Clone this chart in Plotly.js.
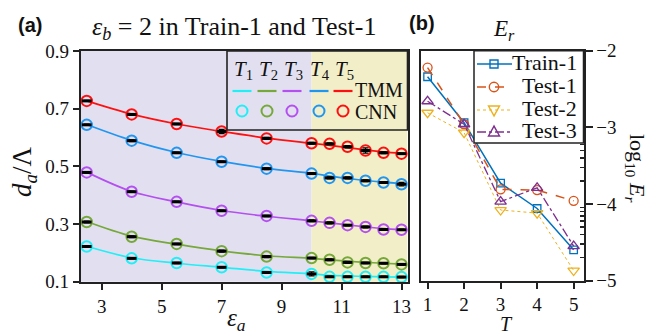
<!DOCTYPE html>
<html><head><meta charset="utf-8">
<script src="https://cdn.plot.ly/plotly-3.0.1.min.js"></script>
<style>html,body{margin:0;padding:0;background:#fff}</style>
</head><body><div id="chart" style="width:650px;height:335px"></div>
<script>
// ---------- Panel (a) data ----------
const epsA = [2.5, 4, 5.5, 7, 8.5, 10, 10.6, 11.2, 11.8, 12.4, 13];
const tmmT1 = [0.223, 0.183, 0.164, 0.150, 0.136, 0.127, 0.122, 0.120, 0.118, 0.117, 0.116];
const tmmT2 = [0.309, 0.258, 0.230, 0.207, 0.190, 0.181, 0.176, 0.171, 0.167, 0.164, 0.161];
const tmmT3 = [0.480, 0.413, 0.377, 0.347, 0.327, 0.311, 0.304, 0.297, 0.290, 0.284, 0.280];
const tmmT4 = [0.645, 0.590, 0.548, 0.517, 0.493, 0.476, 0.466, 0.458, 0.451, 0.445, 0.440];
const tmmT5 = [0.727, 0.681, 0.647, 0.621, 0.598, 0.580, 0.573, 0.565, 0.557, 0.550, 0.545];
const cnnT1 = [0.222, 0.181, 0.165, 0.150, 0.132, 0.127, 0.117, 0.117, 0.117, 0.117, 0.116];
const cnnT2 = [0.307, 0.256, 0.231, 0.206, 0.187, 0.182, 0.176, 0.167, 0.165, 0.164, 0.160];
const cnnT3 = [0.479, 0.412, 0.377, 0.346, 0.328, 0.311, 0.304, 0.296, 0.290, 0.281, 0.280];
const cnnT4 = [0.644, 0.589, 0.547, 0.516, 0.492, 0.475, 0.460, 0.460, 0.450, 0.444, 0.438];
const cnnT5 = [0.727, 0.680, 0.647, 0.621, 0.597, 0.580, 0.578, 0.568, 0.555, 0.547, 0.544];
const errT1 = [0.002, 0.002, 0.002, 0.002, 0.002, 0.007, 0.002, 0.002, 0.002, 0.002, 0.002];
const errT2 = [0.003, 0.003, 0.002, 0.003, 0.003, 0.002, 0.003, 0.003, 0.002, 0.002, 0.003];
const errT3 = [0.002, 0.002, 0.002, 0.002, 0.002, 0.003, 0.003, 0.002, 0.003, 0.003, 0.002];
const errT4 = [0.002, 0.003, 0.002, 0.002, 0.003, 0.003, 0.003, 0.003, 0.003, 0.002, 0.006];
const errT5 = [0.002, 0.003, 0.002, 0.007, 0.003, 0.003, 0.003, 0.004, 0.009, 0.003, 0.002];
const xTicksA = [3, 5, 7, 9, 11, 13];
const yTicksA = [0.1, 0.3, 0.5, 0.7, 0.9];
const yTickTextA = ['0.1', '0.3', '0.5', '0.7', '0.9'];

// ---------- Panel (b) data ----------
const tVals = [1, 2, 3, 4, 5];
const logTrain1 = [-2.34, -2.94, -3.73, -4.06, -4.60];
const logTest1  = [-2.22, -2.96, -3.81, -3.82, -3.96];
const logTest2  = [-2.81, -3.07, -4.08, -4.12, -4.87];
const logTest3  = [-2.66, -2.96, -3.97, -3.79, -4.55];
const seriesNamesB = ['Train-1', 'Test-1', 'Test-2', 'Test-3'];
const yTicksB = [-5, -4, -3, -2];
const yTickTextB = ['\u22125', '\u22124', '\u22123', '\u22122'];

const SERIF = 'Liberation Serif, Times New Roman, serif';
const SANS = 'Liberation Sans, Arial, sans-serif';
const colorsA = ['#22eef5', '#76a83a', '#b44ff0', '#2196f0', '#ff1010'];
const tmm = [tmmT1, tmmT2, tmmT3, tmmT4, tmmT5];
const cnn = [cnnT1, cnnT2, cnnT3, cnnT4, cnnT5];
const err = [errT1, errT2, errT3, errT4, errT5];

const traces = [];
for (let i = 0; i < 5; i++) {
  traces.push({x: epsA, y: tmm[i], xaxis: 'x', yaxis: 'y', mode: 'lines', showlegend: false,
    line: {color: colorsA[i], width: 1.7, shape: 'spline', smoothing: 1}, hoverinfo: 'skip'});
}
for (let i = 0; i < 5; i++) {
  traces.push({x: epsA, y: cnn[i], xaxis: 'x', yaxis: 'y', mode: 'markers', showlegend: false, cliponaxis: false,
    marker: {symbol: 'circle-open', size: 10.5, color: colorsA[i], line: {width: 2, color: colorsA[i]}}});
}
for (let i = 0; i < 5; i++) {
  traces.push({x: epsA, y: cnn[i], xaxis: 'x', yaxis: 'y', mode: 'markers', showlegend: false, cliponaxis: false,
    error_y: {type: 'data', array: err[i], visible: true, color: '#000', thickness: 1.3, width: 3},
    marker: {symbol: 'line-ew-open', size: 7, color: '#000', line: {width: 3, color: '#000'}}});
}

// Panel b
const bSeries = [
  {y: logTrain1, color: '#0072BD', dash: 'solid', sym: 'square-open', size: 7.5, w: 1.5},
  {y: logTest1, color: '#D95319', dash: 'dash', sym: 'circle-open', size: 9, w: 1.5},
  {y: logTest2, color: '#EDB120', dash: 'dot', sym: 'triangle-down-open', size: 10, w: 1},
  {y: logTest3, color: '#7E2F8E', dash: 'dashdot', sym: 'triangle-up-open', size: 10, w: 1.3}
];
bSeries.forEach((s, i) => {
  traces.push({x: tVals, y: s.y, xaxis: 'x2', yaxis: 'y2', name: seriesNamesB[i], mode: 'lines+markers', cliponaxis: false, showlegend: false,
    line: {color: s.color, dash: s.dash, width: s.w},
    marker: {symbol: s.sym, size: s.size, color: s.color, line: {width: 1.3, color: s.color}}});
});

const minorB = [];
for (let n = -5; n < -2; n++) for (let k = 2; k <= 9; k++) minorB.push(n + Math.log10(k));

// Paper-pixel helpers for the hand-made legends
const PW = 650, PH = 335;
const px = v => v / PW, py = v => 1 - v / PH;
const legX = [242, 267, 292, 319, 343];
const shapes = [
  {type: 'rect', xref: 'x', yref: 'y domain', x0: 2.3, x1: 10, y0: 0, y1: 1, fillcolor: '#e2e0f0', line: {width: 0}, layer: 'below'},
  {type: 'rect', xref: 'x', yref: 'y domain', x0: 10, x1: 13.2, y0: 0, y1: 1, fillcolor: '#f1eec8', line: {width: 0}, layer: 'below'},
  {type: 'rect', xref: 'paper', yref: 'paper', x0: px(227), x1: px(407.5), y0: py(130), y1: py(51), line: {width: 1.6, color: '#222'}, fillcolor: 'rgba(0,0,0,0)'}
];
const annotations = [];
for (let i = 0; i < 5; i++) {
  shapes.push({type: 'line', xref: 'paper', yref: 'paper', x0: px(legX[i] - 9.5), x1: px(legX[i] + 9.5), y0: py(91), y1: py(91), line: {color: colorsA[i], width: 2.2}});
  shapes.push({type: 'circle', xref: 'paper', yref: 'paper', x0: px(legX[i] - 5.5), x1: px(legX[i] + 5.5), y0: py(116.5), y1: py(105.5), line: {color: colorsA[i], width: 2}});
  annotations.push({xref: 'paper', yref: 'paper', x: px(legX[i] + 1), y: py(70), text: '<i>T</i><sub>' + (i + 1) + '</sub>', showarrow: false,
    font: {family: SERIF, size: 21, color: '#111'}, xanchor: 'center', yanchor: 'middle'});
}
annotations.push(
  {xref: 'paper', yref: 'paper', x: px(353), y: py(90), text: 'TMM', showarrow: false, xanchor: 'left', yanchor: 'middle', font: {family: SERIF, size: 20, color: '#111'}},
  {xref: 'paper', yref: 'paper', x: px(353), y: py(112), text: 'CNN', showarrow: false, xanchor: 'left', yanchor: 'middle', font: {family: SERIF, size: 20, color: '#111'}},
  {xref: 'paper', yref: 'paper', x: px(30), y: py(25), text: '<b>(a)</b>', showarrow: false, xanchor: 'center', yanchor: 'middle', font: {family: SANS, size: 20, color: '#111'}},
  {xref: 'paper', yref: 'paper', x: px(422), y: py(23), text: '<b>(b)</b>', showarrow: false, xanchor: 'center', yanchor: 'middle', font: {family: SANS, size: 20, color: '#111'}},
  {xref: 'paper', yref: 'paper', x: px(234), y: py(28), text: '<i>ε</i><sub><i>b</i></sub> = 2 in Train-1 and Test-1', showarrow: false, xanchor: 'center', yanchor: 'middle', font: {family: SERIF, size: 26, color: '#111'}},
  {xref: 'paper', yref: 'paper', x: px(24), y: py(172), text: '<i>d<sub>a</sub></i>/Λ', textangle: -90, showarrow: false, xanchor: 'center', yanchor: 'middle', font: {family: SERIF, size: 27, color: '#111'}},
  {xref: 'paper', yref: 'paper', x: px(236), y: py(319), text: '<i>ε<sub>a</sub></i>', showarrow: false, xanchor: 'center', yanchor: 'middle', font: {family: SERIF, size: 25, color: '#111'}},
  {xref: 'paper', yref: 'paper', x: px(504), y: py(30), text: '<i>E<sub>r</sub></i>', showarrow: false, xanchor: 'center', yanchor: 'middle', font: {family: SERIF, size: 23, color: '#111'}},
  {xref: 'paper', yref: 'paper', x: px(506), y: py(324), text: '<i>T</i>', showarrow: false, xanchor: 'center', yanchor: 'middle', font: {family: SERIF, size: 20, color: '#111'}},
  {xref: 'paper', yref: 'paper', x: px(636), y: py(168), text: 'log<sub>10</sub> <i>E<sub>r</sub></i>', textangle: 90, showarrow: false, xanchor: 'center', yanchor: 'middle', font: {family: SERIF, size: 22, color: '#111'}}
);

// Panel (b) hand-made legend
const legB = {x0: 474, x1: 583.5, y0: 50.7, y1: 143};
shapes.push({type: 'rect', xref: 'paper', yref: 'paper', x0: px(legB.x0), x1: px(legB.x1), y0: py(legB.y1), y1: py(legB.y0), fillcolor: '#fff', line: {width: 1.5, color: '#222'}});
const rowsB = [64, 87, 110, 132];
const mcx = 494;
const tri = (cx, cy, s, up) => {
  const h = s * 0.9;
  const pts = up ? [[cx, cy - h * 0.6], [cx - s / 2, cy + h * 0.4], [cx + s / 2, cy + h * 0.4]]
                 : [[cx, cy + h * 0.6], [cx - s / 2, cy - h * 0.4], [cx + s / 2, cy - h * 0.4]];
  return 'M ' + pts.map(p => px(p[0]) + ',' + py(p[1])).join(' L ') + ' Z';
};
bSeries.forEach((s, i) => {
  const cy = rowsB[i];
  shapes.push({type: 'line', xref: 'paper', yref: 'paper', x0: px(477), x1: px(512), y0: py(cy), y1: py(cy), line: {color: s.color, width: s.w + 0.2, dash: s.dash}});
  if (i === 0) shapes.push({type: 'rect', xref: 'paper', yref: 'paper', x0: px(mcx - 4), x1: px(mcx + 4), y0: py(cy + 4), y1: py(cy - 4), line: {color: s.color, width: 1.4}});
  if (i === 1) shapes.push({type: 'circle', xref: 'paper', yref: 'paper', x0: px(mcx - 4.7), x1: px(mcx + 4.7), y0: py(cy + 4.7), y1: py(cy - 4.7), line: {color: s.color, width: 1.4}});
  if (i === 2) shapes.push({type: 'path', xref: 'paper', yref: 'paper', path: tri(mcx, cy, 11, false), line: {color: s.color, width: 1.4}});
  if (i === 3) shapes.push({type: 'path', xref: 'paper', yref: 'paper', path: tri(mcx, cy, 11, true), line: {color: s.color, width: 1.4}});
  annotations.push({xref: 'paper', yref: 'paper', x: px(579), y: py(cy - 2), text: seriesNamesB[i], showarrow: false, xanchor: 'right', yanchor: 'middle',
    font: {family: SERIF, size: 22, color: '#111'}});
});

const axCommon = {showline: true, linewidth: 2, linecolor: '#222', mirror: true, showgrid: false, zeroline: false,
  ticks: 'outside', ticklen: 6, tickwidth: 2, tickcolor: '#222', tickfont: {family: SERIF, size: 19, color: '#111'}};

const layout = {
  width: 650, height: 335, margin: {l: 0, r: 0, t: 0, b: 0},
  paper_bgcolor: '#fff', plot_bgcolor: 'rgba(0,0,0,0)',
  showlegend: false,
  xaxis: Object.assign({}, axCommon, {domain: [80.7 / 650, 407.5 / 650], range: [2.3, 13.2], tickvals: xTicksA, anchor: 'y'}),
  yaxis: Object.assign({}, axCommon, {domain: [1 - 281.7 / 335, 1 - 51 / 335], range: [0.1, 0.9], tickvals: yTicksA, ticktext: yTickTextA, anchor: 'x'}),
  xaxis2: Object.assign({}, axCommon, {domain: [421 / 650, 583.5 / 650], range: [0.82, 5.27], tickvals: tVals, anchor: 'y2'}),
  yaxis2: Object.assign({}, axCommon, {domain: [1 - 280.5 / 335, 1 - 50.7 / 335], range: [-5, -2], side: 'right', anchor: 'x2',
    tickvals: yTicksB, ticktext: yTickTextB, ticklen: 7,
    minor: {tickvals: minorB, ticks: 'inside', ticklen: 4, tickwidth: 1.5, tickcolor: '#222', showgrid: false}}),
  shapes: shapes, annotations: annotations
};
Plotly.newPlot('chart', traces, layout, {staticPlot: true, displayModeBar: false});
</script></body></html>
